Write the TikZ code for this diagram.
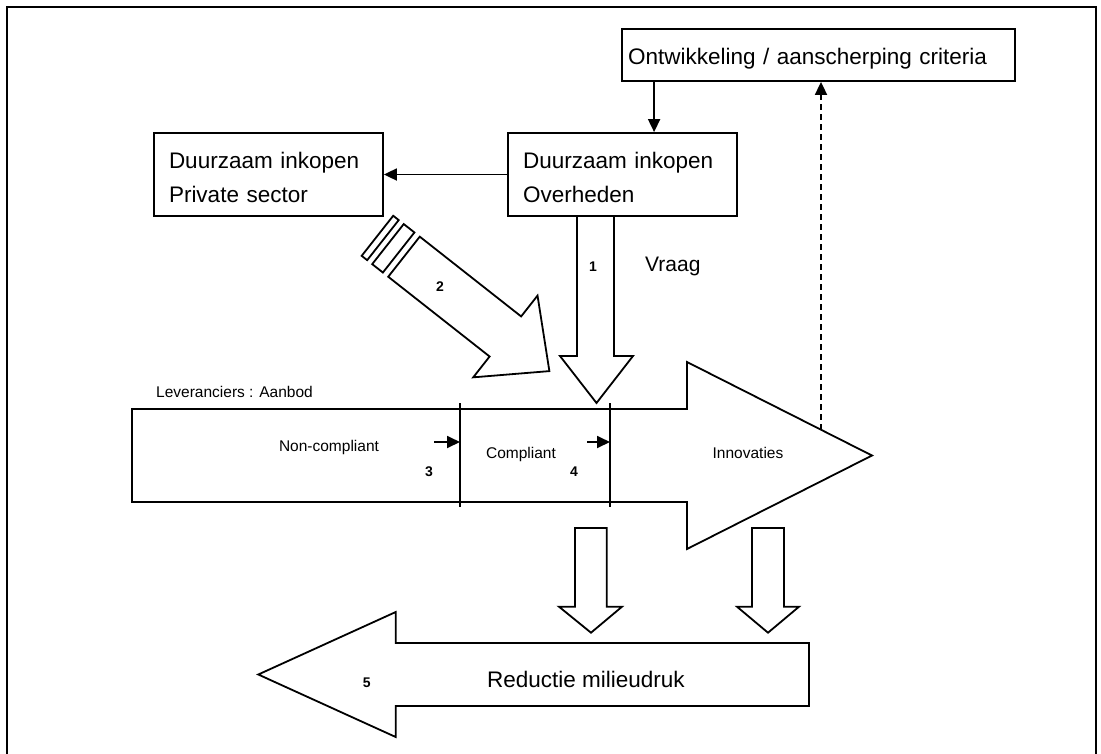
\documentclass[tikz,border=0pt]{standalone}
\usepackage{fontspec}
\setmainfont{Liberation Sans}
\usetikzlibrary{arrows.meta}

\begin{document}
\begin{tikzpicture}[
    x=1pt, y=-1pt,
    line width=1.8pt,
    box/.style={
      draw,
      align=left,
      font=\fontsize{22.5}{34}\selectfont,
      text height=22pt,
      text depth=34.5pt,
      minimum height=83pt,
      inner xsep=15pt,
      text width=199pt
    },
    blockarrow/.style={draw, fill=white, line join=miter},
    arr/.style={-{Triangle[length=13pt,width=12pt]}},
    small/.style={font=\fontsize{15.5}{18}\selectfont, anchor=base},
    num/.style={font=\fontsize{14}{16}\selectfont\bfseries, anchor=base}
  ]

  \useasboundingbox (0,0) rectangle (1101,753);
  \draw (7,7) rectangle (1096,770);

  % boxes
  \node[box, minimum height=52pt, text height=18pt, text depth=0pt, inner xsep=6pt, text width=381pt] (criteria) at (818.5,55) {Ontwikkeling / aanscherping criteria};
  \node[box] (private) at (268.5,174.5) {Duurzaam inkopen\\Private sector};
  \node[box] (overheden) at (622.5,174.5) {Duurzaam inkopen\\Overheden};

  \draw[arr] (overheden.west) -- (private.east);
  \draw[arr] ([xshift=33pt]criteria.south west) -- ([xshift=147pt]overheden.north west);

  % vraag (1)
  \draw[blockarrow] (577,216) -- (577,356) -- (560,356) -- (596.5,403) -- (633,356) -- (614,356) -- (614,216) -- cycle;
  \node[num] (n1) at (593,271) {1};
  \node[font=\fontsize{21}{24}\selectfont, anchor=base west] (vraag) at (641,271) {Vraag};

  % striped arrow (2)
  \begin{scope}[shift={(404,256.7)}, rotate=-38.2]
    \draw[blockarrow] (0,-25.5) -- (129,-25.5) -- (129,-52) -- (185,0) -- (129,52) -- (129,25.5) -- (0,25.5) -- cycle;
    \draw[blockarrow] (-20.4,-25.5) rectangle (-6.8,25.5);
    \draw[blockarrow] (-33.8,-25.5) rectangle (-26.8,25.5);
  \end{scope}
  \node[num] (n2) at (440,291.7) {2};

  % aanbod
  \draw[blockarrow] (132,409) -- (687,409) -- (687,362) -- (872,455.5) -- (687,549) -- (687,502) -- (132,502) -- cycle;
  \draw (460,403) -- (460,507);
  \draw (610,403) -- (610,507);
  \node[small, anchor=base west] (aanbod) at (152,397) {Leveranciers : Aanbod};
  \node[small] (noncompliant) at (329,451.7) {Non-compliant};
  \node[small] (compliant) at (521,458.3) {Compliant};
  \node[small] (innovaties) at (748,458.3) {Innovaties};

  \coordinate (s3) at (434,442);
  \coordinate (d1) at (460,442);
  \coordinate (s4) at (587,442);
  \coordinate (d2) at (610,442);
  \draw[arr] (s3) -- (d1);
  \draw[arr] (s4) -- (d2);
  \node[num] (n3) at (429,476.7) {3};
  \node[num] (n4) at (574,476.7) {4};

  % feedback
  \coordinate (feedback) at (821,429.7);
  \draw[arr, dash pattern=on 6pt off 4pt] (feedback) -- (feedback |- criteria.south);

  % effect arrows
  \draw[blockarrow] (575,528) -- (575,606.7) -- (559,606.7) -- (591,632.7) -- (622,606.7) -- (606.7,606.7) -- (606.7,528) -- cycle;
  \draw[blockarrow] (752,528) -- (752,606.7) -- (737,606.7) -- (768,632.7) -- (799,606.7) -- (784,606.7) -- (784,528) -- cycle;

  % reductie (5)
  \draw[blockarrow] (809,643) -- (395.7,643) -- (395.7,612) -- (258.3,674.5) -- (395.7,737) -- (395.7,706) -- (809,706) -- cycle;
  \node[num] (n5) at (366.7,687.3) {5};
  \node[font=\fontsize{22.5}{26}\selectfont, anchor=base] (reductie) at (586,687.3) {Reductie milieudruk};

\end{tikzpicture}
\end{document}
